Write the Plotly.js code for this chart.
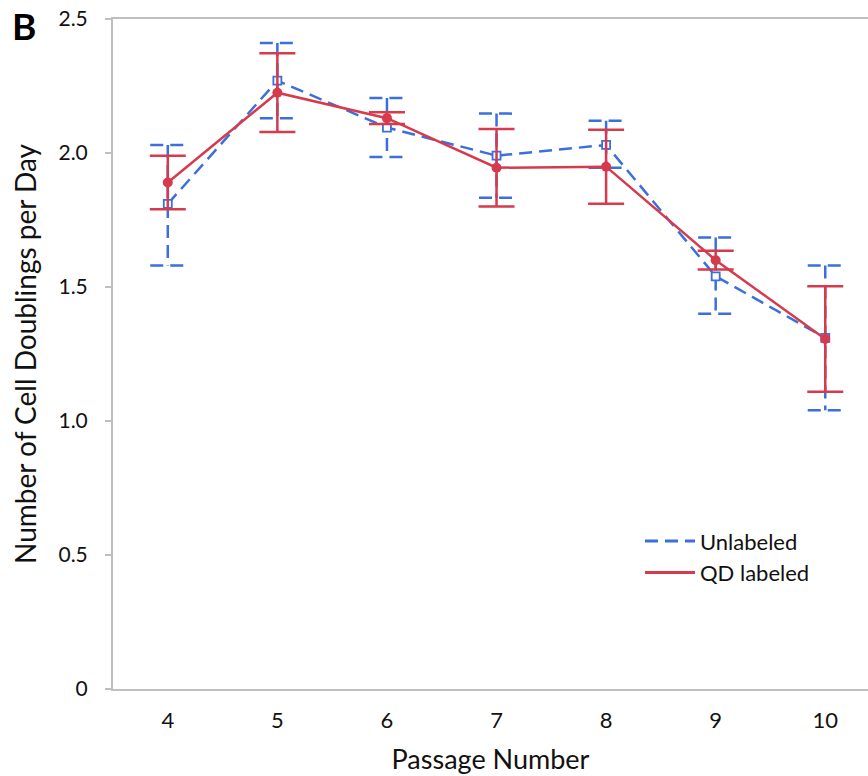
<!DOCTYPE html>
<html>
<head>
<meta charset="utf-8">
<script src="https://cdn.plot.ly/plotly-3.0.1.min.js"></script>
<style>
  html, body { margin: 0; padding: 0; background: #ffffff; overflow: hidden; }
  #chart { width: 868px; height: 776px; }
</style>
</head>
<body>
<div id="chart"></div>
<script>
// Passage numbers on the x axis
const passages = [4, 5, 6, 7, 8, 9, 10];

// Unlabeled cells: mean doublings per day and error extents
const unlabeledMean = [1.81, 2.27, 2.095, 1.99, 2.03, 1.54, 1.31];
const unlabeledErrUp = [0.22, 0.14, 0.11, 0.157, 0.09, 0.145, 0.27];
const unlabeledErrDown = [0.23, 0.14, 0.11, 0.157, 0.085, 0.14, 0.27];

// QD-labeled cells: mean doublings per day and error
const labeledMean = [1.89, 2.225, 2.13, 1.945, 1.949, 1.60, 1.306];
const labeledErr = [0.10, 0.147, 0.022, 0.145, 0.138, 0.035, 0.197];

// Axis tick values and labels
const yTickVals = [0, 0.5, 1.0, 1.5, 2.0, 2.5];
const yTickText = ['0', '0.5', '1.0', '1.5', '2.0', '2.5'];

const BLUE = '#3a6fdc';
const RED = '#d63a4c';
const AXIS = '#bfbfbf';
const FONT = 'Lato, "Open Sans", sans-serif';
const CAP = 0.16; // half width of the dashed caps, in passage units
const DASH = '13px,7px';

// Build the dashed error bars of the unlabeled series as one broken path
const errX = [];
const errY = [];
passages.forEach((p, i) => {
  const hi = unlabeledMean[i] + unlabeledErrUp[i];
  const lo = unlabeledMean[i] - unlabeledErrDown[i];
  errX.push(p - CAP, p + CAP, null, p, p, null, p - CAP, p + CAP, null);
  errY.push(hi, hi, null, hi, lo, null, lo, lo, null);
});

const traces = [
  {
    x: errX, y: errY,
    type: 'scatter', mode: 'lines',
    line: { color: BLUE, width: 2.5, dash: DASH },
    connectgaps: false,
    showlegend: false, hoverinfo: 'skip'
  },
  {
    x: passages, y: unlabeledMean,
    name: 'Unlabeled',
    type: 'scatter', mode: 'lines+markers',
    line: { color: BLUE, width: 2.5, dash: DASH },
    marker: { symbol: 'square', size: 8, color: '#ffffff', line: { color: BLUE, width: 1.8 } },
    showlegend: false
  },
  {
    x: passages, y: labeledMean,
    name: 'QD labeled',
    type: 'scatter', mode: 'lines+markers',
    line: { color: RED, width: 2.5 },
    marker: { symbol: 'circle', size: 10, color: RED },
    error_y: { type: 'data', array: labeledErr, visible: true, color: RED, thickness: 2.5, width: 18 },
    showlegend: false
  },
  // Line-only legend entries
  {
    x: [null], y: [null], name: 'Unlabeled',
    type: 'scatter', mode: 'lines',
    line: { color: BLUE, width: 3, dash: DASH }
  },
  {
    x: [null], y: [null], name: 'QD labeled',
    type: 'scatter', mode: 'lines',
    line: { color: RED, width: 3 }
  }
];

const layout = {
  width: 868, height: 776,
  margin: { l: 113, r: 0, t: 19, b: 87 },
  paper_bgcolor: '#ffffff', plot_bgcolor: '#ffffff',
  font: { family: FONT, color: '#111111' },
  showlegend: true,
  legend: {
    x: 0.698, y: 0.252, xanchor: 'left', yanchor: 'top',
    itemwidth: 50,
    font: { family: FONT, size: 22, color: '#111111' },
    bgcolor: 'rgba(0,0,0,0)'
  },
  xaxis: {
    range: [3.5, 10.39],
    tickvals: passages,
    ticktext: passages.map(String),
    ticks: '',
    showgrid: false, zeroline: false,
    showline: true, mirror: true, linecolor: AXIS, linewidth: 2,
    tickfont: { family: FONT, size: 22, color: '#111111' },
    ticklabelstandoff: 11,
    title: { text: 'Passage Number', font: { family: FONT, size: 27, color: '#111111' }, standoff: 18 }
  },
  yaxis: {
    range: [0, 2.5],
    tickvals: yTickVals,
    ticktext: yTickText,
    ticks: 'outside', ticklen: 6, tickwidth: 2, tickcolor: AXIS,
    showgrid: false, zeroline: false,
    showline: true, linecolor: AXIS, linewidth: 2,
    tickfont: { family: FONT, size: 21, color: '#111111' },
    ticklabelstandoff: 13,
    title: { text: 'Number of Cell Doublings per Day', font: { family: FONT, size: 28, color: '#111111' }, standoff: 14 }
  },
  annotations: [
    {
      text: '<b>B</b>', xref: 'paper', yref: 'paper',
      x: -0.118, y: 0.99, xanchor: 'center', yanchor: 'middle',
      showarrow: false,
      font: { family: FONT, size: 37, color: '#000000' }
    }
  ]
};

Plotly.newPlot('chart', traces, layout, { displayModeBar: false, staticPlot: true });
</script>
</body>
</html>
